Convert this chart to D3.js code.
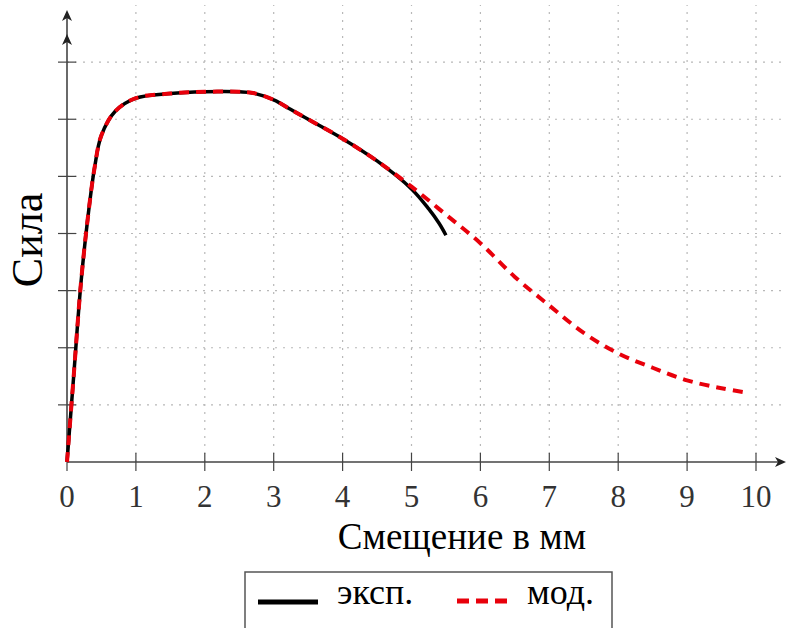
<!DOCTYPE html>
<html>
<head>
<meta charset="utf-8">
<script src="https://cdn.jsdelivr.net/npm/d3@7"></script>
<style>
  body { margin: 0; background: #fff; }
</style>
</head>
<body>
<div id="graph"></div>
<script>
// displacement (mm) / force (arbitrary units, 1 unit = 1 grid step)
var expX = [0, 0.1, 0.2, 0.3, 0.4, 0.5, 0.7, 1.0, 1.5, 2.0, 2.5, 2.7, 3.0, 3.25, 3.5, 4.0, 4.5, 5.0, 5.25, 5.4, 5.5]
var expY = [0, 1.55, 3.1, 4.25, 5.15, 5.72, 6.14, 6.37, 6.45, 6.48, 6.48, 6.46, 6.34, 6.17, 6.0, 5.66, 5.27, 4.78, 4.43, 4.18, 3.97]

var modX = [0, 0.1, 0.2, 0.3, 0.4, 0.5, 0.7, 1.0, 1.5, 2.0, 2.5, 2.7, 3.0, 3.25, 3.5, 4.0, 4.5, 5.0, 5.5, 6.0, 6.5, 7.0, 7.5, 8.0, 8.5, 9.0, 9.5, 9.9]
var modY = [0, 1.55, 3.1, 4.25, 5.15, 5.72, 6.14, 6.37, 6.45, 6.48, 6.48, 6.46, 6.34, 6.17, 6.0, 5.66, 5.27, 4.82, 4.33, 3.83, 3.24, 2.74, 2.26, 1.9, 1.65, 1.43, 1.29, 1.21]

var xTicks = [0, 1, 2, 3, 4, 5, 6, 7, 8, 9, 10]
var yTicks = [1, 2, 3, 4, 5, 6, 7]

var legendNames = ['эксп.', 'мод.']
var xLabel = 'Смещение в мм'
var yLabel = 'Сила'

var width = 786, height = 628
var serif = '"Liberation Serif", "Times New Roman", Tinos, "DejaVu Serif", serif'

var svg = d3.select('#graph').append('svg')
  .attr('width', width).attr('height', height)
  .style('font-family', serif)

var x = d3.scaleLinear().domain([0, 10]).range([67, 756])
var y = d3.scaleLinear().domain([0, 8]).range([462, 5])

var gridColor = '#b8b8b8'
var axisColor = '#444'

// grid
svg.append('g').selectAll('line').data(xTicks.slice(1)).join('line')
  .attr('x1', d => x(d)).attr('x2', d => x(d))
  .attr('y1', y(0)).attr('y2', y(8))
  .attr('stroke', gridColor).attr('stroke-width', 1.2)
  .attr('stroke-dasharray', '2,6')

svg.append('g').selectAll('line').data(yTicks).join('line')
  .attr('x1', x(0)).attr('x2', width)
  .attr('y1', d => y(d)).attr('y2', d => y(d))
  .attr('stroke', gridColor).attr('stroke-width', 1.2)
  .attr('stroke-dasharray', '2,6')

// axes
var arrow = (px, py, dir) => {
  // latex-ish arrow head, dir: 'up' or 'right'
  var p = dir == 'up'
    ? [[px, py], [px - 5, py + 11], [px, py + 8], [px + 5, py + 11]]
    : [[px, py], [px - 11, py - 5], [px - 8, py], [px - 11, py + 5]]
  svg.append('path')
    .attr('d', 'M' + p.join('L') + 'Z')
    .attr('fill', '#222')
}

svg.append('line')
  .attr('x1', x(0)).attr('x2', 783)
  .attr('y1', y(0)).attr('y2', y(0))
  .attr('stroke', axisColor).attr('stroke-width', 1.6)
arrow(786, y(0), 'right')

svg.append('line')
  .attr('x1', x(0)).attr('x2', x(0))
  .attr('y1', y(0)).attr('y2', 12)
  .attr('stroke', axisColor).attr('stroke-width', 1.6)
arrow(x(0), 10, 'up')
arrow(x(0), 34, 'up')

// tick marks
svg.append('g').selectAll('line').data(xTicks).join('line')
  .attr('x1', d => x(d)).attr('x2', d => x(d))
  .attr('y1', y(0) - 9).attr('y2', y(0) + 9)
  .attr('stroke', axisColor).attr('stroke-width', 1.2)

svg.append('g').selectAll('line').data(yTicks).join('line')
  .attr('x1', x(0) - 9).attr('x2', x(0) + 9)
  .attr('y1', d => y(d)).attr('y2', d => y(d))
  .attr('stroke', axisColor).attr('stroke-width', 1.2)

svg.append('g').selectAll('text').data(xTicks).join('text')
  .attr('x', d => x(d)).attr('y', 507)
  .attr('text-anchor', 'middle')
  .attr('font-family', serif)
  .attr('font-size', 31).attr('fill', '#333')
  .text(d => d)

// axis labels
svg.append('text')
  .attr('x', 462).attr('y', 549)
  .attr('text-anchor', 'middle')
  .attr('font-family', serif)
  .attr('font-size', 37)
  .text(xLabel)

svg.append('text')
  .attr('transform', 'translate(42,240) rotate(-90)')
  .attr('text-anchor', 'middle')
  .attr('font-family', serif)
  .attr('font-size', 44)
  .text(yLabel)

// curves
var line = d3.line()
  .x(d => x(d[0])).y(d => y(d[1]))
  .curve(d3.curveCatmullRom.alpha(0.5))

svg.append('path')
  .datum(d3.zip(expX, expY))
  .attr('d', line)
  .attr('fill', 'none').attr('stroke', '#000').attr('stroke-width', 3.5)

svg.append('path')
  .datum(d3.zip(modX, modY))
  .attr('d', line)
  .attr('fill', 'none').attr('stroke', '#e8000b').attr('stroke-width', 4)
  .attr('stroke-dasharray', '10,7')

// legend
svg.append('rect')
  .attr('x', 245).attr('y', 572)
  .attr('width', 367).attr('height', 80)
  .attr('fill', 'none').attr('stroke', '#555').attr('stroke-width', 1.5)

svg.append('line')
  .attr('x1', 258).attr('x2', 318).attr('y1', 602).attr('y2', 602)
  .attr('stroke', '#000').attr('stroke-width', 5)
svg.append('text')
  .attr('x', 337).attr('y', 604)
  .attr('font-family', serif)
  .attr('font-size', 36)
  .text(legendNames[0])

svg.append('line')
  .attr('x1', 457).attr('x2', 512).attr('y1', 601).attr('y2', 601)
  .attr('stroke', '#e8000b').attr('stroke-width', 5)
  .attr('stroke-dasharray', '12,7')
svg.append('text')
  .attr('x', 527).attr('y', 604)
  .attr('font-family', serif)
  .attr('font-size', 36)
  .text(legendNames[1])
</script>
</body>
</html>
